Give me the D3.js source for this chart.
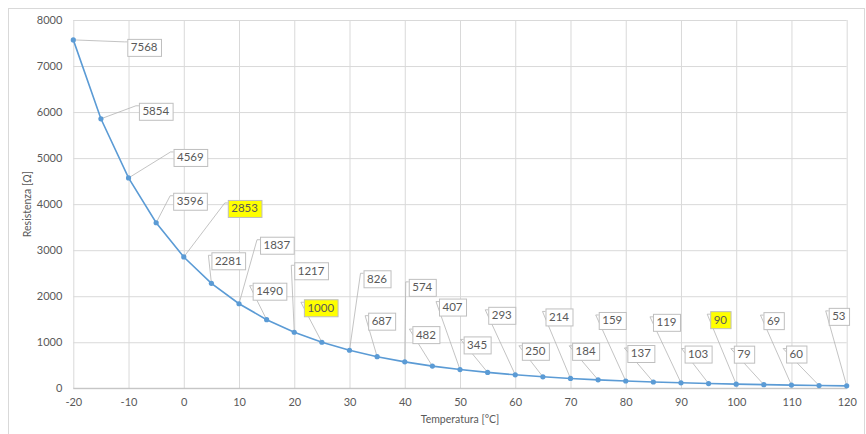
<!DOCTYPE html>
<html>
<head>
<meta charset="utf-8">
<script src="https://cdn.jsdelivr.net/npm/d3@7"></script>
<style>
  html, body { margin: 0; padding: 0; background: #fff; }
  svg { display: block; font-family: Lato, "Liberation Sans", sans-serif; }
</style>
</head>
<body>
<svg id="chart" width="866" height="434"></svg>
<script>
// ---- data ----
const temperatures = [-20,-15,-10,-5,0,5,10,15,20,25,30,35,40,45,50,55,60,65,70,75,80,85,90,95,100,105,110,115,120];
const resistances = [7568,5854,4569,3596,2853,2281,1837,1490,1217,1000,826,687,574,482,407,345,293,250,214,184,159,137,119,103,90,79,69,60,53];
const highlightedTemps = [0, 25, 100];
const xTicks = [-20,-10,0,10,20,30,40,50,60,70,80,90,100,110,120];
const yTicks = [0,1000,2000,3000,4000,5000,6000,7000,8000];
const xTitle = "Temperatura [°C]";
const yTitle = "Resistenza [Ω]";

// ---- label layout (pixel offsets of label box top-left from the point) ----
const labelOffsets = [[54,-1],[38,-16],[45,-29],[17,-30],[44,-57],[0,-31],[21,-67],[-14,-37],[0,-70],[-18,-43],
  [14,-80],[-9,-44],[4,-83],[-20,-40],[-21,-71],[-24,-36],[-27,-68],[-21,-34],[-25,-70],[-26,-37],
  [-27,-69],[-26,-37],[-28,-69],[-24,-38],[-26,-73],[-30,-39],[-28,-73],[-33,-40],[-18,-78]];

const svg = d3.select("#chart");
const x = d3.scaleLinear().domain([-20, 120]).range([73.3, 846.7]);
const y = d3.scaleLinear().domain([0, 8000]).range([388.3, 20]);

// outer border
svg.append("rect").attr("x", 8.5).attr("y", 8.5).attr("width", 856).attr("height", 440)
  .attr("fill", "#fff").attr("stroke", "#d9d9d9").attr("stroke-width", 1);

// gridlines
const gx = svg.append("g").attr("transform", `translate(0,${y(0)})`)
  .call(d3.axisBottom(x).tickValues(xTicks).tickSize(-(y(0) - y(8000))).tickFormat(""));
gx.selectAll(".tick line").attr("stroke", "#d9d9d9");
gx.select(".domain").remove();
const gy = svg.append("g").attr("transform", `translate(${x(-20)},0)`)
  .call(d3.axisLeft(y).tickValues(yTicks).tickSize(-(x(120) - x(-20))).tickFormat(""));
gy.selectAll(".tick line").attr("stroke", "#d9d9d9");
gy.select(".domain").remove();

// x axis line
svg.append("line").attr("x1", x(-20)).attr("x2", x(120)).attr("y1", y(0)).attr("y2", y(0))
  .attr("stroke", "#bfbfbf").attr("stroke-width", 1);

// tick labels
const xa = svg.append("g").attr("transform", `translate(0,${y(0)})`)
  .call(d3.axisBottom(x).tickValues(xTicks).tickSize(0).tickPadding(10).tickFormat(d => String(d)));
xa.select(".domain").remove();
xa.selectAll("text").attr("fill", "#595959").style("font-size", "11px").style("font-family", "Lato, sans-serif");
const ya = svg.append("g").attr("transform", `translate(${x(-20)},0)`)
  .call(d3.axisLeft(y).tickValues(yTicks).tickSize(0).tickPadding(11).tickFormat(d => String(d)));
ya.select(".domain").remove();
ya.selectAll("text").attr("fill", "#595959").style("font-size", "11px").style("font-family", "Lato, sans-serif");

// axis titles
svg.append("text").attr("x", (x(-20) + x(120)) / 2).attr("y", 423).attr("text-anchor", "middle")
  .attr("fill", "#595959").style("font-size", "10.5px").text(xTitle);
svg.append("text").attr("transform", `translate(31,${(y(0) + y(8000)) / 2}) rotate(-90)`)
  .attr("text-anchor", "middle").attr("fill", "#595959").style("font-size", "10.5px").text(yTitle);

const pts = temperatures.map((t, i) => ({ t, v: resistances[i], off: labelOffsets[i] }));

// leader lines & labels
const lab = svg.append("g");
pts.forEach(p => {
  const px = x(p.t), py = y(p.v);
  const bx = px + p.off[0], by = py + p.off[1];
  const g = lab.append("g");
  g.append("polyline")
    .attr("points", `${px},${py} ${bx - 3},${by + 3} ${bx},${by + 3}`)
    .attr("fill", "none").attr("stroke", "#b4b4b4").attr("stroke-width", 0.8);
  const txt = g.append("text").attr("x", bx + 3.5).attr("y", by + 12.5)
    .attr("fill", "#595959").style("font-size", "11.5px").text(p.v);
  const w = txt.node().getComputedTextLength() + 7;
  g.insert("rect", "text").attr("x", bx + 0.5).attr("y", by + 0.5).attr("width", w).attr("height", 17)
    .attr("fill", highlightedTemps.includes(p.t) ? "#ffff00" : "#ffffff")
    .attr("stroke", "#bfbfbf").attr("stroke-width", 1);
});

// line + markers
svg.append("path").datum(pts)
  .attr("d", d3.line().x(d => x(d.t)).y(d => y(d.v)))
  .attr("fill", "none").attr("stroke", "#5b9bd5").attr("stroke-width", 1.6);
svg.append("g").selectAll("circle").data(pts).join("circle")
  .attr("cx", d => x(d.t)).attr("cy", d => y(d.v)).attr("r", 2.6)
  .attr("fill", "#5b9bd5");
</script>
</body>
</html>
